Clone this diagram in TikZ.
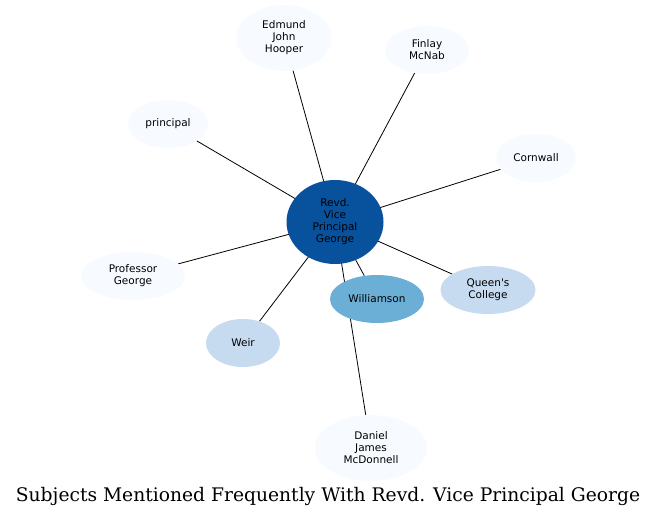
\documentclass[tikz,border=0pt]{standalone}
\usepackage{fontspec}
\newfontfamily\labelfont{DejaVu Sans}
\newfontfamily\titlefont{DejaVu Serif}
\usetikzlibrary{shapes,backgrounds}

\definecolor{hubblue}{HTML}{08519C}
\definecolor{midblue}{HTML}{6BAED6}
\definecolor{softblue}{HTML}{C6DBEF}
\definecolor{paleblue}{HTML}{F7FBFF}

\begin{document}
\begin{tikzpicture}[
    x=1pt, y=-1pt,
    topic/.style={ellipse, inner sep=0pt, align=center, font=\labelfont\fontsize{10.5}{12}\selectfont},
    link/.style={draw=black, line width=0.8pt}
]
\useasboundingbox (0,0) rectangle (657,518);

\node[topic, fill=hubblue, minimum width=97pt, minimum height=84pt] (hub) at (335,222) {Revd.\\Vice\\Principal\\George};
\node[topic, fill=paleblue, minimum width=95pt, minimum height=66pt] (hooper) at (284,38) {Edmund\\John\\Hooper};
\node[topic, fill=paleblue, minimum width=84pt, minimum height=48pt] (mcnab) at (427,50) {Finlay\\McNab};
\node[topic, fill=paleblue, minimum width=80pt, minimum height=48pt] (principal) at (168,124) {principal};
\node[topic, fill=paleblue, minimum width=80pt, minimum height=48pt] (cornwall) at (536,158) {Cornwall};
\node[topic, fill=paleblue, minimum width=104pt, minimum height=48pt] (professor) at (133,276) {Professor\\George};
\node[topic, fill=softblue, minimum width=74pt, minimum height=48pt] (weir) at (243,343) {Weir};
\node[topic, fill=midblue, minimum width=94pt, minimum height=48pt] (williamson) at (377,299) {Williamson};
\node[topic, fill=softblue, minimum width=95pt, minimum height=48pt] (queens) at (488,290) {Queen's\\College};
\node[topic, fill=paleblue, minimum width=112pt, minimum height=66pt] (mcdonnell) at (371,448) {Daniel\\James\\McDonnell};

\begin{pgfonlayer}{background}
\draw[link] (hub.center) -- (hooper);
\draw[link] (hub.center) -- (mcnab);
\draw[link] (hub.center) -- (principal);
\draw[link] (hub.center) -- (cornwall);
\draw[link] (hub.center) -- (professor);
\draw[link] (hub.center) -- (weir);
\draw[link] (hub.center) -- (williamson);
\draw[link] (hub.center) -- (queens);
\draw[link] (hub.center) -- (mcdonnell);
\end{pgfonlayer}

\node[font=\titlefont\fontsize{18.7}{22}\selectfont] (title) at (328,496) {Subjects Mentioned Frequently With Revd. Vice Principal George};

\end{tikzpicture}
\end{document}
